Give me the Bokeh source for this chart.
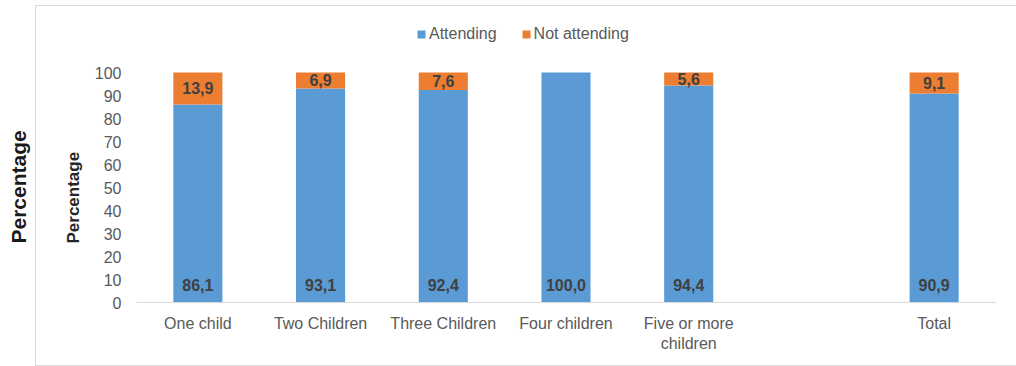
from bokeh.plotting import figure
from bokeh.models import (ColumnDataSource, FactorRange, Range1d, LinearAxis, FixedTicker, Title,
                          Legend, LegendItem, LabelSet, InlineStyleSheet)
from bokeh.core.properties import value
from bokeh.embed import file_html
from bokeh.resources import INLINE

# Household size categories (a blank slot separates the total)
categories = ["One child", "Two Children", "Three Children", "Four children",
              "Five or more\nchildren", "Total"]
slots = ["One child", "Two Children", "Three Children", "Four children",
         "Five or more\nchildren", " ", "Total"]
attending = [86.1, 93.1, 92.4, 100.0, 94.4, 90.9]
not_attending = [13.9, 6.9, 7.6, 0.0, 5.6, 9.1]
y_ticks = [0, 10, 20, 30, 40, 50, 60, 70, 80, 90, 100]

BLUE = "#5B9BD5"
ORANGE = "#ED7D31"
GREY = "#595959"
FONT = "Liberation Sans"


def fmt(v):
    return f"{v:.1f}".replace(".", ",")


src = ColumnDataSource(dict(cat=categories, attending=attending, not_attending=not_attending))

# Thin frame around the chart area (left, top and bottom edges)
chart_border = InlineStyleSheet(css="""
:host { position: relative; }
:host::after {
  content: ""; position: absolute; left: 35px; top: 5px; width: 981px; height: 361px;
  box-sizing: border-box; border: 1px solid #D9D9D9; border-right: none;
  pointer-events: none;
}
""")

p = figure(x_range=FactorRange(factors=slots, range_padding=0),
           y_range=Range1d(0, 126.96),
           width=1016, height=366,
           min_border_left=132, min_border_right=21, min_border_top=10, min_border_bottom=64,
           output_backend="svg", toolbar_location=None,
           stylesheets=[chart_border])
p.outline_line_color = None
p.grid.visible = False
p.background_fill_color = "white"

renderers = p.vbar_stack(["attending", "not_attending"], x="cat", width=0.4,
                         color=[BLUE, ORANGE], line_color=None, source=src)

# Value axis (0-100)
p.yaxis.ticker = FixedTicker(ticks=y_ticks)
p.yaxis.axis_line_color = None
p.yaxis.major_tick_line_color = None
p.yaxis.minor_tick_line_color = None
p.yaxis.major_tick_out = 0
p.yaxis.major_label_standoff = 15
p.yaxis.major_label_text_font = FONT
p.yaxis.major_label_text_font_size = "16px"
p.yaxis.major_label_text_color = GREY

# Axis title of the chart
p.add_layout(Title(text="Percentage", align="left", offset=59, standoff=18,
                   text_font=FONT, text_font_size="17px", text_font_style="bold",
                   text_color="#262626"), "left")
# Blank gap between the chart's axis title and the page-level title
p.add_layout(LinearAxis(ticker=FixedTicker(ticks=[0]), axis_line_color=None,
                        major_tick_line_color="white", minor_tick_line_color=None,
                        major_tick_out=19, major_tick_in=0, major_label_standoff=0,
                        major_label_overrides={0: ""}), "left")
# Page-level title outside the chart box
p.add_layout(Title(text="Percentage", align="left", offset=59, standoff=8,
                   text_font=FONT, text_font_size="21px", text_font_style="bold",
                   text_color="#1a1a1a"), "left")

p.xaxis.axis_line_color = "#D9D9D9"
p.xaxis.major_tick_line_color = None
p.xaxis.minor_tick_line_color = None
p.xaxis.major_tick_out = 0
p.xaxis.major_label_standoff = 12
p.xaxis.major_label_text_font = FONT
p.xaxis.major_label_text_font_size = "16px"
p.xaxis.major_label_text_color = GREY

# Value labels: attending at the bar base, not attending centred in its segment
base_src = ColumnDataSource(dict(cat=categories, y=[7.4] * len(categories),
                                 txt=[fmt(v) for v in attending]))
top_cats = [c for c, n in zip(categories, not_attending) if n > 0]
top_y = [a + n / 2 for a, n in zip(attending, not_attending) if n > 0]
top_txt = [fmt(n) for n in not_attending if n > 0]
top_src = ColumnDataSource(dict(cat=top_cats, y=top_y, txt=top_txt))
for s in (base_src, top_src):
    p.add_layout(LabelSet(x="cat", y="y", text="txt", source=s,
                          text_align="center", text_baseline="middle",
                          text_font=value(FONT), text_font_size="16px",
                          text_font_style="bold", text_color="#404040"))

legend = Legend(items=[LegendItem(label="Attending", renderers=[renderers[0]]),
                       LegendItem(label="Not attending", renderers=[renderers[1]])],
                orientation="horizontal", location=(280, 259),
                glyph_width=10, glyph_height=10, label_standoff=3, spacing=24,
                padding=0, margin=0, border_line_color=None, background_fill_alpha=0,
                label_text_font=FONT, label_text_font_size="16px", label_text_color=GREY)
p.add_layout(legend)

open("out.html", "w").write(file_html(p, INLINE))
